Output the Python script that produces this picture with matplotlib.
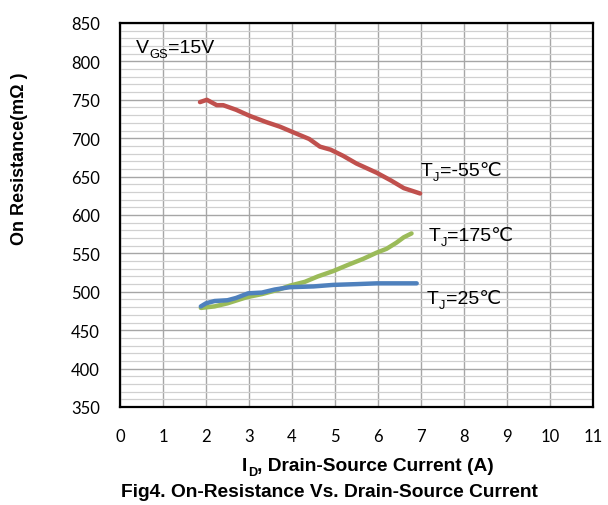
import matplotlib
matplotlib.use("Agg")
import matplotlib.pyplot as plt
from matplotlib.text import Annotation
import numpy as np

# Data
red_x = [1.86, 2.02, 2.25, 2.4, 2.7, 3.02, 3.4, 3.72, 4.1, 4.4, 4.65, 4.9, 5.19, 5.5, 5.97, 6.3, 6.6, 6.98]
red_y = [747, 750, 743, 743, 737, 729, 721, 715, 706, 699, 689, 685, 677, 667, 655, 645, 635, 628]

green_x = [1.88, 2.2, 2.5, 2.95, 3.3, 3.7, 3.95, 4.3, 4.6, 4.96, 5.3, 5.66, 5.97, 6.2, 6.43, 6.6, 6.78]
green_y = [479, 481, 485, 493, 497, 503, 508, 513, 520, 527, 535, 543, 551, 556, 564, 571, 576]

blue_x = [1.88, 2.0, 2.2, 2.5, 2.7, 2.98, 3.3, 3.6, 3.95, 4.5, 4.96, 5.5, 5.97, 6.5, 6.9]
blue_y = [481, 485, 488, 489, 492, 498, 499, 503, 506, 507, 509, 510, 511, 511, 511]

x_ticks = list(range(0, 12))
y_ticks = list(range(350, 851, 50))

FAM = ['Liberation Sans', 'DejaVu Sans']
plt.rcParams['font.family'] = FAM

W, H = 608, 506
fig = plt.figure(figsize=(W / 100, H / 100), dpi=100)
ax = fig.add_axes([120/W, 1-408/H, (593-120)/W, (408-24)/H])

ax.set_xlim(0, 11)
ax.set_ylim(350, 850)
ax.set_xticks(x_ticks)
ax.set_yticks(y_ticks)
ax.set_yticks(np.arange(350, 851, 10), minor=True)
ax.grid(True, which='major', color='#A6A6A6', linewidth=1.0)
ax.grid(True, which='minor', axis='y', color='#D0D0D0', linewidth=0.9)
ax.set_axisbelow(True)
ax.tick_params(which='both', length=0)
ax.tick_params(axis='x', pad=15)
ax.tick_params(axis='y', pad=14.4)
for lab in ax.get_xticklabels() + ax.get_yticklabels():
    lab.set_family(['Lato', 'DejaVu Sans'])
    lab.set_fontsize(12)
for s in ax.spines.values():
    s.set_linewidth(1.6)
    s.set_color('black')

lw = 3.2
ax.plot(red_x, red_y, color='#C0504D', lw=lw, solid_capstyle='round')
ax.plot(green_x, green_y, color='#9BBB59', lw=lw, solid_capstyle='round')
ax.plot(blue_x, blue_y, color='#4F81BD', lw=lw, solid_capstyle='round')


def sub_label(t1, sub, rest, fs, weight='normal'):
    t2 = Annotation(sub, xy=(1, 0), xycoords=t1, xytext=(0.3, -2.8), textcoords='offset points',
                    fontsize=fs * 0.66, va='bottom', ha='left', family=FAM, fontweight=weight)
    t3 = Annotation(rest, xy=(1, 0), xycoords=(t2, t1), xytext=(0.2, 0), textcoords='offset points',
                    fontsize=fs, va='bottom', ha='left', family=FAM, fontweight=weight)
    t1.figure.add_artist(t2)
    t1.figure.add_artist(t3)


tfs = 14
for (x, y, m, s, r) in [(0.37, 818, 'V', 'GS', '=15V'),
                        (6.99, 657.5, 'T', 'J', '=-55℃'),
                        (7.17, 573, 'T', 'J', '=175℃'),
                        (7.13, 491, 'T', 'J', '=25℃')]:
    t = ax.text(x, y, m, fontsize=tfs, va='center', family=FAM)
    sub_label(t, s, r, tfs)

fig.text(20/W, 1-159/H, 'On Resistance(mΩ )', fontsize=13, fontweight='bold',
         rotation=90, ha='center', va='center')

xl = fig.text(242/W, 1-467/H, 'I', fontsize=13.8, fontweight='bold', ha='left', va='center')
sub_label(xl, 'D', ', Drain-Source Current (A)', 13.8, weight='bold')

fig.text(121/W, 1-493/H, 'Fig4. On-Resistance Vs. Drain-Source Current',
         fontsize=13.8, fontweight='bold', ha='left', va='center')

fig.savefig('out.png', dpi=100)
